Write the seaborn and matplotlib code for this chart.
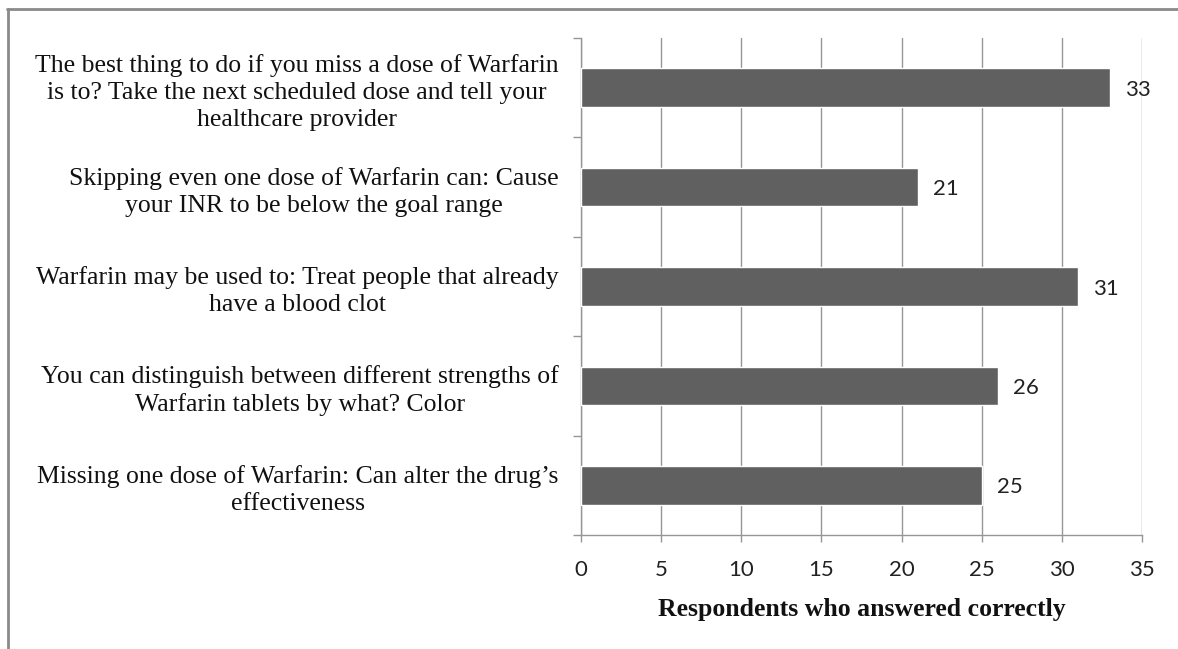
import matplotlib
matplotlib.use("Agg")
import matplotlib.pyplot as plt
from matplotlib.lines import Line2D
from matplotlib.ticker import FixedLocator
import seaborn as sns
import pandas as pd

categories = [
    "The best thing to do if you miss a dose of Warfarin\nis to? Take the next scheduled dose and tell your\nhealthcare provider",
    "Skipping even one dose of Warfarin can: Cause\nyour INR to be below the goal range",
    "Warfarin may be used to: Treat people that already\nhave a blood clot",
    "You can distinguish between different strengths of\nWarfarin tablets by what? Color",
    "Missing one dose of Warfarin: Can alter the drug\u2019s\neffectiveness",
]
values = [33, 21, 31, 26, 25]
x_ticks = [0, 5, 10, 15, 20, 25, 30, 35]
x_title = "Respondents who answered correctly"

sns.set_style("white")
serif = ["Liberation Serif", "DejaVu Serif"]
sans = ["Lato", "DejaVu Sans"]

df = pd.DataFrame({"q": categories, "n": values})

fig = plt.figure(figsize=(11.78, 6.49), dpi=100)
ax = fig.add_axes([581 / 1178, 1 - 535 / 649, (1142 - 581) / 1178, (535 - 38) / 649])

sns.barplot(data=df, x="n", y="q", orient="h", color="#606060", width=0.39,
            saturation=1, ax=ax, zorder=3)

grid_c = "#969696"
ax.set_xlim(0, 35)
ax.set_ylim(4.5, -0.5)
ax.set_xticks(x_ticks)
ax.set_xticklabels([str(t) for t in x_ticks], fontfamily=sans, fontsize=16, color="#222222")
ax.xaxis.grid(True, color=grid_c, linewidth=1, zorder=0)
ax.yaxis.grid(False)
ax.tick_params(axis="x", direction="out", length=5, width=1, color=grid_c, pad=13, bottom=True)
ax.tick_params(axis="y", which="major", length=0, pad=16)
ax.yaxis.set_minor_locator(FixedLocator([-0.5, 0.5, 1.5, 2.5, 3.5, 4.5]))
ax.tick_params(axis="y", which="minor", direction="out", length=6, width=1, color=grid_c, left=True)
for lab in ax.get_yticklabels():
    lab.set_fontfamily(serif)
    lab.set_fontsize(18.5)
    lab.set_multialignment("center")
    lab.set_linespacing(1.28)
    lab.set_color("#111111")

for s in ["top", "right"]:
    ax.spines[s].set_visible(False)
for s in ["left", "bottom"]:
    ax.spines[s].set_color(grid_c)
    ax.spines[s].set_linewidth(1)

ax.set_ylabel("")
ax.set_xlabel(x_title, fontfamily=serif, fontsize=18.5, fontweight="bold", labelpad=13, color="#111111")

for i, v in enumerate(values):
    ax.annotate(str(v), xy=(v, i), xytext=(11, -1.5), textcoords="offset points",
                ha="left", va="center", fontfamily=sans, fontsize=16, color="#222222", zorder=4)

border_c = "#8a8a8a"
fig.add_artist(Line2D([7 / 1178, 1.0], [1 - 9 / 649, 1 - 9 / 649], transform=fig.transFigure,
                      color=border_c, linewidth=2))
fig.add_artist(Line2D([8 / 1178, 8 / 1178], [1 - 9 / 649, 0.0], transform=fig.transFigure,
                      color=border_c, linewidth=2))

fig.savefig("out.png", dpi=100)
